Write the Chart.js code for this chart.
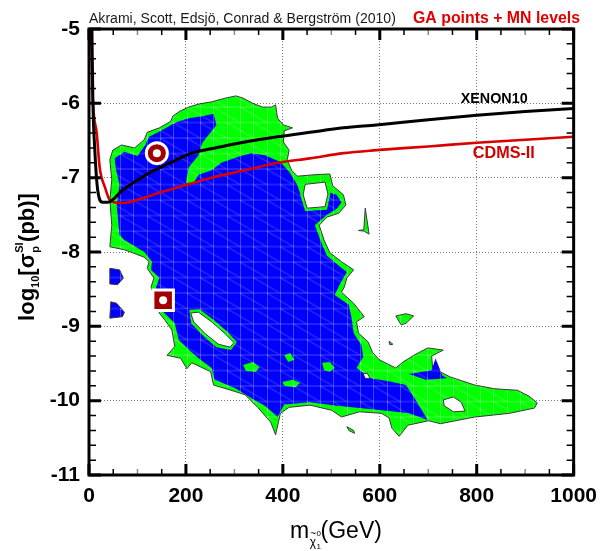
<!DOCTYPE html>
<html><head><meta charset="utf-8">
<script src="https://cdn.jsdelivr.net/npm/chart.js@4.4.1/dist/chart.umd.min.js"></script>
<style>html,body{margin:0;padding:0;background:#fff;}canvas{display:block;}</style>
</head><body>
<canvas id="c" width="606" height="551"></canvas>
<script>
// ---------- tick labels ----------
const xTickLabels = ['0','200','400','600','800','1000'];
const yTickLabels = ['-11','-10','-9','-8','-7','-6','-5'];

// ---------- exclusion curves (mass in GeV, log10 sigma) ----------
const xenonMass = [6, 8, 12, 18, 28, 39, 69, 118, 171, 212, 267, 322, 389, 456, 525, 593, 700, 800, 900, 1000];
const xenonLogSigma = [-5.0, -5.96, -6.63, -7.17, -7.33, -7.33, -7.17, -6.96, -6.79, -6.67, -6.59, -6.52, -6.45, -6.39, -6.33, -6.29, -6.22, -6.16, -6.11, -6.07];
const cdmsMass = [4, 8, 16, 22, 33, 43, 63, 84, 118, 151, 200, 253, 322, 389, 456, 525, 593, 700, 800, 900, 1000];
const cdmsLogSigma = [-5.0, -5.96, -6.40, -6.86, -7.13, -7.30, -7.34, -7.33, -7.26, -7.19, -7.10, -7.00, -6.90, -6.80, -6.74, -6.67, -6.63, -6.58, -6.53, -6.49, -6.45];

// ---------- best-fit markers ----------
const circleMarker = [[140, -6.67]];
const squareMarker = [[153, -8.65]];

// ---------- credible-region contours [mass, log10 sigma] ----------
const greenOuter = [[49,-6.63],[67,-6.56],[94,-6.60],[114,-6.49],[120,-6.39],[145,-6.33],[169,-6.24],[173,-6.17],[189,-6.10],[206,-6.05],[226,-6.01],[253,-5.98],[281,-5.93],[303,-5.90],[318,-5.93],[338,-6.00],[358,-6.05],[377,-6.05],[385,-6.02],[389,-6.20],[401,-6.29],[420,-6.33],[403,-6.37],[401,-6.52],[413,-6.63],[409,-6.76],[418,-6.90],[430,-6.98],[466,-6.96],[497,-6.95],[503,-7.11],[525,-7.23],[530,-7.37],[515,-7.48],[491,-7.53],[475,-7.64],[485,-7.84],[497,-8.01],[521,-8.13],[546,-8.24],[532,-8.35],[527,-8.47],[521,-8.54],[546,-8.69],[568,-8.87],[552,-8.94],[556,-9.09],[576,-9.21],[585,-9.35],[599,-9.45],[633,-9.56],[648,-9.48],[670,-9.39],[699,-9.29],[731,-9.32],[707,-9.40],[709,-9.56],[745,-9.68],[796,-9.79],[837,-9.84],[884,-9.86],[908,-9.94],[925,-10.03],[919,-10.10],[868,-10.17],[796,-10.22],[725,-10.31],[701,-10.27],[658,-10.33],[640,-10.48],[625,-10.37],[619,-10.23],[603,-10.17],[558,-10.15],[521,-10.22],[501,-10.13],[456,-10.06],[413,-10.09],[395,-10.17],[385,-10.46],[375,-10.29],[348,-10.09],[322,-9.92],[293,-9.86],[257,-9.79],[251,-9.61],[212,-9.49],[202,-9.57],[189,-9.43],[161,-9.39],[177,-9.27],[171,-9.05],[157,-8.92],[145,-8.82],[128,-8.47],[134,-8.35],[120,-8.22],[124,-8.13],[114,-8.07],[73,-7.97],[43,-7.93],[47,-7.64],[43,-7.30],[47,-7.03],[43,-6.76]];
const blueInner = [[53,-6.74],[73,-6.65],[100,-6.71],[116,-6.56],[124,-6.45],[151,-6.36],[181,-6.25],[206,-6.20],[236,-6.17],[257,-6.14],[263,-6.29],[251,-6.39],[234,-6.53],[226,-6.70],[206,-6.86],[200,-7.07],[216,-7.07],[226,-6.96],[253,-6.90],[273,-6.80],[308,-6.72],[334,-6.67],[363,-6.70],[395,-6.79],[413,-6.92],[430,-7.10],[440,-7.30],[448,-7.44],[483,-7.42],[491,-7.19],[511,-7.23],[521,-7.33],[511,-7.42],[491,-7.50],[466,-7.64],[479,-7.87],[491,-8.05],[515,-8.18],[532,-8.27],[517,-8.44],[507,-8.58],[536,-8.71],[542,-8.89],[546,-9.09],[562,-9.25],[566,-9.41],[552,-9.56],[582,-9.70],[619,-9.74],[654,-9.79],[674,-9.99],[699,-10.26],[660,-10.17],[619,-10.14],[558,-10.10],[511,-10.07],[456,-10.02],[403,-10.05],[389,-10.22],[363,-10.07],[344,-10.00],[301,-9.83],[259,-9.72],[253,-9.56],[226,-9.43],[202,-9.29],[185,-9.18],[177,-8.96],[155,-8.82],[145,-8.65],[138,-8.48],[145,-8.35],[128,-8.24],[130,-8.13],[114,-8.00],[73,-7.84],[63,-7.77],[57,-7.37],[63,-7.10],[55,-6.87]];
const blueTail = [[660,-9.64],[707,-9.59],[715,-9.43],[729,-9.66],[739,-9.70],[695,-9.72]];
const blueLeftA = [[43,-8.22],[63,-8.24],[71,-8.35],[59,-8.44],[43,-8.43]];
const blueLeftB = [[45,-8.67],[57,-8.69],[73,-8.81],[69,-8.87],[43,-8.89]];
const greenIslandA = [[633,-8.86],[654,-8.83],[670,-8.86],[654,-8.96],[644,-8.98]];
const greenIslandB = [[570,-7.41],[578,-7.76],[568,-7.72],[556,-7.71],[567,-7.70]];
const greenIslandC = [[532,-10.35],[546,-10.40],[548,-10.44],[536,-10.40]];
const greenIslandD = [[619,-9.20],[627,-9.24],[621,-9.25]];
const greenSpotA = [[318,-9.52],[338,-9.48],[352,-9.55],[344,-9.61],[324,-9.60]];
const greenSpotB = [[403,-9.39],[415,-9.36],[424,-9.45],[411,-9.48]];
const greenSpotC = [[481,-9.49],[497,-9.48],[507,-9.56],[497,-9.61],[485,-9.59]];
const greenSpotD = [[399,-9.75],[420,-9.72],[436,-9.76],[426,-9.82],[403,-9.80]];
const rimA = [[207,-8.78],[228,-8.77],[257,-8.91],[285,-9.07],[305,-9.21],[293,-9.32],[263,-9.28],[236,-9.13],[211,-8.96]];
const rimB = [[440,-7.05],[490,-7.02],[498,-7.22],[491,-7.43],[446,-7.45],[436,-7.23]];
const holeA = [[210,-8.82],[226,-8.81],[253,-8.94],[281,-9.10],[299,-9.22],[291,-9.28],[267,-9.24],[240,-9.10],[216,-8.94]];
const holeB = [[446,-7.09],[487,-7.06],[493,-7.22],[487,-7.39],[450,-7.41],[442,-7.23]];
const holeC = [[566,-9.64],[574,-9.63],[580,-9.70],[570,-9.70]];
const holeD = [[731,-9.99],[752,-9.95],[768,-10.02],[776,-10.14],[752,-10.15],[733,-10.07]];

// ---------- styling helpers ----------
const FONT = "'Liberation Sans', Arial, Helvetica, sans-serif";
const NARROW = "'Liberation Sans Narrow', 'Arial Narrow', 'Liberation Sans', Arial, sans-serif";
const GREEN = '#00ff00', BLUE = '#0000ff', EDGE = '#3a3a3a';

function mesh(base){
  const c = document.createElement('canvas'); c.width = 80; c.height = 31;
  const g = c.getContext('2d');
  g.fillStyle = base; g.fillRect(0,0,80,31);
  g.strokeStyle = 'rgba(255,255,255,0.26)'; g.lineWidth = 1;
  g.beginPath();
  for (let i = 0; i < 6; i++){ const x = Math.round(i*80/6)+0.5; g.moveTo(x,0); g.lineTo(x,31); }
  g.moveTo(0,0.5); g.lineTo(80,0.5); g.moveTo(0,16); g.lineTo(80,16);
  for (let i = -1; i < 4; i++){ const x0 = i*26.667; g.moveTo(x0,0.5); g.lineTo(x0+26.667,16); g.moveTo(x0+13.333,16); g.lineTo(x0+40,31.5); }
  g.stroke();
  const p = g.createPattern(c,'repeat');
  if (p.setTransform) p.setTransform(new DOMMatrix().translate(0,13.5));
  return p;
}
const greenFill = mesh(GREEN), blueFill = mesh(BLUE);

function poly(pts, fillStyle, edge, edgeW, order){
  const data = pts.map(p => ({x:p[0], y:p[1]}));
  data.push({x:pts[0][0], y:pts[0][1]});
  return {data, showLine:true, fill:'shape', backgroundColor:fillStyle,
          borderColor: edge || 'rgba(0,0,0,0)', borderWidth: edgeW || 0,
          pointRadius:0, tension:0, order};
}
function curve(xs, ys, color, w, order){
  return {data: xs.map((x,i)=>({x, y:ys[i]})), showLine:true, fill:false,
          borderColor:color, borderWidth:w, pointRadius:0, cubicInterpolationMode:'monotone', order};
}
const pts = a => a.map(p => ({x:p[0], y:p[1]}));

const datasets = [
  poly(greenOuter, greenFill, EDGE, 1, 60),
  poly(greenIslandA, greenFill, EDGE, 1, 59),
  poly(greenIslandB, greenFill, EDGE, 1, 59),
  poly(greenIslandC, greenFill, EDGE, 1, 59),
  poly(greenIslandD, greenFill, EDGE, 1, 59),
  poly(blueInner, blueFill, null, 0, 58),
  poly(blueTail, blueFill, null, 0, 57),
  poly(blueLeftA, blueFill, EDGE, 1, 57),
  poly(blueLeftB, blueFill, EDGE, 1, 57),
  poly(greenSpotA, greenFill, null, 0, 56),
  poly(greenSpotB, greenFill, null, 0, 56),
  poly(greenSpotC, greenFill, null, 0, 56),
  poly(greenSpotD, greenFill, null, 0, 56),
  poly(rimA, greenFill, null, 0, 55),
  poly(rimB, greenFill, null, 0, 55),
  poly(holeA, '#ffffff', EDGE, 1, 54),
  poly(holeB, '#ffffff', EDGE, 1, 54),
  poly(holeC, '#ffffff', EDGE, 1, 54),
  poly(holeD, '#ffffff', EDGE, 1, 54),
  curve(cdmsMass, cdmsLogSigma, '#d80000', 2.6, 4),
  curve(xenonMass, xenonLogSigma, '#000000', 3, 3),
  {data: pts(circleMarker), pointStyle:'circle', pointRadius:10.5, pointBackgroundColor:'#a00000', pointBorderColor:'#ffffff', pointBorderWidth:3, showLine:false, order:2},
  {data: pts(squareMarker), pointStyle:'rect', pointRadius:14.5, pointBackgroundColor:'#a00000', pointBorderColor:'#ffffff', pointBorderWidth:3, showLine:false, order:2},
  {data: pts(circleMarker.concat(squareMarker)), pointStyle:'circle', pointRadius:4, pointBackgroundColor:'#ffffff', pointBorderWidth:0, showLine:false, order:1}
];

function fitText(ctx, text, weight, family, targetW, baseSize){
  ctx.font = weight + ' ' + baseSize + 'px ' + family;
  const w = ctx.measureText(text).width;
  const size = baseSize * targetW / w;
  ctx.font = weight + ' ' + size.toFixed(2) + 'px ' + family;
}

const decor = {
  id:'decor',
  afterDraw(chart){
    const ctx = chart.ctx, a = chart.chartArea, xs = chart.scales.x, ys = chart.scales.y;
    ctx.save();
    // inward tick marks on all four sides
    for (let v = 0; v <= 1000; v += 50){
      const px = xs.getPixelForValue(v), major = v % 200 === 0;
      ctx.strokeStyle = (major || v % 100 !== 0) ? '#000' : '#8a8a8a';
      ctx.lineWidth = major ? 3 : 1.5;
      const len = major ? 11 : 6;
      ctx.beginPath();
      ctx.moveTo(px, a.bottom); ctx.lineTo(px, a.bottom - len);
      ctx.moveTo(px, a.top); ctx.lineTo(px, a.top + len);
      ctx.stroke();
    }
    for (let k = 0; k <= 30; k++){
      const v = -11 + k*0.2, py = ys.getPixelForValue(v), major = k % 5 === 0;
      ctx.strokeStyle = '#000';
      ctx.lineWidth = major ? 3 : 1.5;
      const len = major ? 12 : 7;
      ctx.beginPath();
      ctx.moveTo(a.left, py); ctx.lineTo(a.left + len, py);
      ctx.moveTo(a.right, py); ctx.lineTo(a.right - len, py);
      ctx.stroke();
    }
    // frame
    ctx.lineWidth = 3; ctx.strokeStyle = '#000';
    ctx.strokeRect(a.left, a.top, a.right - a.left, a.bottom - a.top);

    // header texts
    ctx.textBaseline = 'alphabetic'; ctx.textAlign = 'left';
    ctx.fillStyle = '#1a1a1a';
    const head = 'Akrami, Scott, Edsjö, Conrad & Bergström (2010)';
    fitText(ctx, head, 'normal', NARROW, 307, 16);
    ctx.fillText(head, 89, 23);
    ctx.fillStyle = '#e00000';
    const head2 = 'GA points + MN levels';
    fitText(ctx, head2, 'bold', FONT, 167, 15);
    ctx.fillText(head2, 413, 23);

    // curve labels
    ctx.textAlign = 'center'; ctx.textBaseline = 'middle';
    ctx.fillStyle = '#000';
    fitText(ctx, 'XENON10', 'bold', FONT, 67, 13);
    ctx.fillText('XENON10', xs.getPixelForValue(836), ys.getPixelForValue(-5.94));
    ctx.fillStyle = '#d00000';
    fitText(ctx, 'CDMS-II', 'bold', FONT, 62, 13);
    ctx.fillText('CDMS-II', xs.getPixelForValue(856), ys.getPixelForValue(-6.67));

    // x axis title: m_{chi~_1^0} (GeV)
    ctx.textAlign = 'left'; ctx.textBaseline = 'alphabetic'; ctx.fillStyle = '#000';
    const big = '23px ' + NARROW;
    ctx.font = big; const wm = ctx.measureText('m').width; const wg = ctx.measureText('(GeV)').width;
    ctx.font = '12px ' + FONT; const wc = ctx.measureText('χ').width;
    const subW = wc + 5;
    let x0 = 336 - (wm + subW + wg)/2;
    ctx.font = big; ctx.fillText('m', x0, 538);
    let xc = x0 + wm + 0.5;
    ctx.font = '12px ' + FONT; ctx.fillText('χ', xc, 546);
    ctx.font = '10px ' + FONT; ctx.fillText('~', xc + 0.5, 537);
    ctx.font = '8px ' + FONT; ctx.fillText('0', xc + wc + 0.5, 536); ctx.fillText('1', xc + wc + 0.5, 549);
    ctx.font = big; ctx.fillText('(GeV)', x0 + wm + subW, 538);

    // y axis title: log10[sigma_p^SI(pb)]
    const Y_BIG = 'bold 22px ' + NARROW, Y_SMALL = 'bold 11px ' + FONT;
    const parts = [['log', Y_BIG, 0], ['10', Y_SMALL, 5], ['[σ', Y_BIG, 0]];
    ctx.font = Y_SMALL; const wSI = ctx.measureText('SI').width, wp = ctx.measureText('p').width;
    let total = 0;
    for (const p of parts){ ctx.font = p[1]; total += ctx.measureText(p[0]).width; }
    total += Math.max(wSI, wp) + 1;
    ctx.font = Y_BIG; total += ctx.measureText('(pb)]').width;
    ctx.translate(34, 257 + total/2); ctx.rotate(-Math.PI/2);
    let cx = 0;
    for (const p of parts){ ctx.font = p[1]; ctx.fillText(p[0], cx, p[2]); cx += ctx.measureText(p[0]).width; }
    ctx.font = Y_SMALL; ctx.fillText('SI', cx + 0.5, -11); ctx.fillText('p', cx + 0.5, 5);
    cx += Math.max(wSI, wp) + 1;
    ctx.font = Y_BIG; ctx.fillText('(pb)]', cx, 0);
    ctx.restore();
  }
};

new Chart(document.getElementById('c'), {
  type: 'scatter',
  data: { datasets },
  options: {
    responsive: false, devicePixelRatio: 1, animation: false,
    events: [],
    layout: { padding: { top: 29, right: 26, left: 0, bottom: 0 } },
    plugins: { legend: { display: false }, tooltip: { enabled: false } },
    scales: {
      x: {
        type: 'linear', min: 0, max: 1000,
        afterFit: s => { s.height = 76; },
        ticks: { stepSize: 200, padding: 9, color: '#000',
                 font: { family: FONT, size: 21, weight: 'bold' },
                 callback: v => xTickLabels[Math.round(v/200)] },
        grid: { color: '#7a7a7a', lineWidth: 1, drawTicks: false },
        border: { display: false, dash: [1, 2] }
      },
      y: {
        type: 'linear', min: -11, max: -5,
        afterFit: s => { s.width = 89; },
        ticks: { stepSize: 1, padding: 9, color: '#000',
                 font: { family: FONT, size: 21, weight: 'bold' },
                 callback: v => yTickLabels[Math.round(v + 11)] },
        grid: { color: '#7a7a7a', lineWidth: 1, drawTicks: false },
        border: { display: false, dash: [1, 2] }
      }
    }
  },
  plugins: [decor]
});
</script>
</body></html>
